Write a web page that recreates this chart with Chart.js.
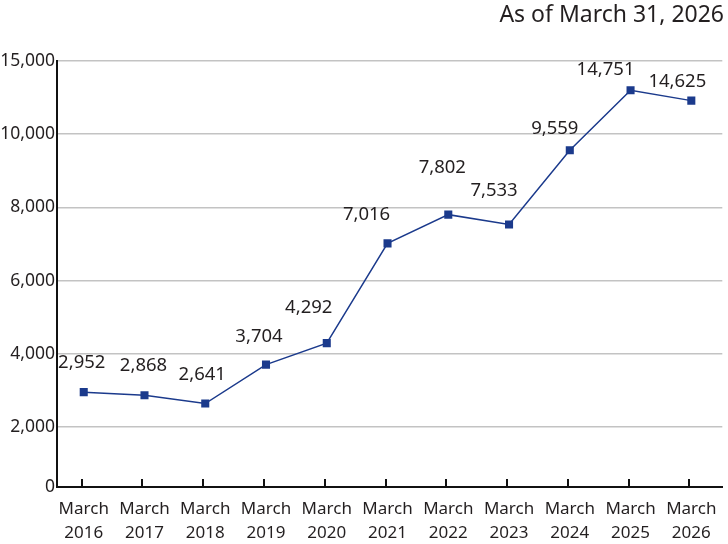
<!DOCTYPE html>
<html>
<head>
<meta charset="utf-8">
<title>Count as of March 31, 2026</title>
<script src="https://cdn.jsdelivr.net/npm/chart.js@4.4.1/dist/chart.umd.min.js"></script>
<style>
    html, body { margin: 0; padding: 0; background: #fff; }
    #wrap { width: 728px; height: 544px; position: relative; }
</style>
</head>
<body>
<div id="wrap"><canvas id="chart"></canvas></div>
<script>
// ============================================
// DATA
// ============================================

const years = ['2016', '2017', '2018', '2019', '2020', '2021', '2022', '2023', '2024', '2025', '2026'];
const counts = [2952, 2868, 2641, 3704, 4292, 7016, 7802, 7533, 9559, 14751, 14625];
const yTicks = [0, 2000, 4000, 6000, 8000, 10000, 15000];
const asOfText = 'As of March 31, 2026';

const FONT = "'Noto Sans', 'DejaVu Sans', sans-serif";
const INK = '#231f20';
const NAVY = '#1b3a8c';

// ============================================
// STEP SCALE - ticks evenly spaced, values placed inside each step
// ============================================

class StepScale extends Chart.LinearScale {
    buildTicks() {
        return yTicks.map(v => ({ value: v }));
    }

    segWeight(i) {
        // the 0 - 2,000 band is drawn a bit shorter than the others
        return i === 0 ? 0.82 : 1;
    }

    // position inside a band; the top (10,000 - 15,000) band is compressed
    bandCurve(i, t) {
        return i === yTicks.length - 2 ? Math.pow(t, 10) : t;
    }

    bandCurveInv(i, f) {
        return i === yTicks.length - 2 ? Math.pow(f, 1 / 10) : f;
    }

    totalWeight() {
        let total = 0;
        for (let i = 0; i < yTicks.length - 1; i++) total += this.segWeight(i);
        return total;
    }

    toDecimal(value) {
        const total = this.totalWeight();
        let acc = 0;
        for (let i = 0; i < yTicks.length - 1; i++) {
            const lo = yTicks[i], hi = yTicks[i + 1];
            if (value <= hi || i === yTicks.length - 2) {
                const t = Math.max(0, (value - lo) / (hi - lo));
                return (acc + this.bandCurve(i, t) * this.segWeight(i)) / total;
            }
            acc += this.segWeight(i);
        }
        return 1;
    }

    getPixelForValue(value) {
        return this.getPixelForDecimal(this.toDecimal(value));
    }

    getValueForPixel(pixel) {
        const d = this.getDecimalForPixel(pixel);
        const total = this.totalWeight();
        let acc = 0;
        for (let i = 0; i < yTicks.length - 1; i++) {
            const w = this.segWeight(i) / total;
            if (d <= acc + w || i === yTicks.length - 2) {
                const t = this.bandCurveInv(i, Math.max(0, (d - acc) / w));
                return yTicks[i] + t * (yTicks[i + 1] - yTicks[i]);
            }
            acc += w;
        }
        return yTicks[yTicks.length - 1];
    }
}
StepScale.id = 'step';
StepScale.defaults = {};
Chart.register(StepScale);

// ============================================
// DECORATIONS - inward ticks, value labels, date note
// ============================================

const decorations = {
    id: 'decorations',
    beforeDatasetsDraw(chart) {
        const { ctx, chartArea, scales } = chart;
        ctx.save();
        ctx.strokeStyle = '#111';
        ctx.lineWidth = 2;
        for (let i = 0; i < years.length; i++) {
            const px = Math.round(scales.x.getPixelForValue(i)) - 2;
            ctx.beginPath();
            ctx.moveTo(px, chartArea.bottom);
            ctx.lineTo(px, chartArea.bottom - 8);
            ctx.stroke();
        }
        ctx.restore();
    },
    afterDatasetsDraw(chart, args, opts) {
        const { ctx } = chart;
        const meta = chart.getDatasetMeta(0);
        ctx.save();
        ctx.fillStyle = INK;
        ctx.font = '18.5px ' + FONT;
        ctx.textAlign = 'center';
        ctx.textBaseline = 'middle';
        for (let i = 0; i < meta.data.length; i++) {
            const pt = meta.data[i];
            const dx = opts.shiftX[i] || 0;
            const dy = opts.shiftY[i] || 29;
            ctx.fillText(counts[i].toLocaleString('en-US'), pt.x + dx, pt.y - dy);
        }
        ctx.textAlign = 'right';
        ctx.font = '23px ' + FONT;
        ctx.fillText(asOfText, 724, 15);
        ctx.restore();
    }
};

// ============================================
// CHART
// ============================================

Chart.defaults.font.family = FONT;
Chart.defaults.color = INK;

new Chart(document.getElementById('chart').getContext('2d'), {
    type: 'line',
    data: {
        datasets: [{
            data: counts.map((v, i) => ({ x: i, y: v })),
            borderColor: NAVY,
            borderWidth: 1.5,
            backgroundColor: NAVY,
            pointStyle: 'rect',
            pointRadius: 5.7,
            pointHoverRadius: 5.7,
            pointBorderWidth: 0,
            tension: 0,
            fill: false
        }]
    },
    options: {
        responsive: true,
        maintainAspectRatio: false,
        animation: false,
        layout: { padding: { top: 61, left: 0, right: 0, bottom: 0 } },
        plugins: {
            legend: { display: false },
            tooltip: { enabled: false },
            decorations: {
                shiftX: [-2, -1, -3, -7, -18, -21, -6, -15, -15, -25, -14],
                shiftY: [29, 29, 29, 28, 35, 29, 47, 34, 22, 21, 19]
            }
        },
        scales: {
            x: {
                type: 'linear',
                min: -0.44,
                max: 10.51,
                afterBuildTicks: s => { s.ticks = years.map((_, i) => ({ value: i })); },
                afterFit: s => { s.height = 57; },
                grid: { display: false, drawTicks: false },
                border: { display: true, color: '#111', width: 2 },
                ticks: {
                    autoSkip: false,
                    maxRotation: 0,
                    padding: 10,
                    font: { size: 17, lineHeight: 1.4 },
                    callback: v => ['March', years[Math.round(v)]]
                }
            },
            y: {
                type: 'step',
                min: 0,
                max: 15000,
                afterFit: s => { s.width = 57; },
                grid: {
                    drawTicks: false,
                    lineWidth: 1.5,
                    color: c => (c.tick && c.tick.value === 0) ? 'rgba(0,0,0,0)' : '#c3c3c3'
                },
                border: { display: true, color: '#111', width: 2 },
                ticks: {
                    padding: 2,
                    font: { size: 17.5 },
                    callback: v => Number(v).toLocaleString('en-US')
                }
            }
        }
    },
    plugins: [decorations]
});
</script>
</body>
</html>
